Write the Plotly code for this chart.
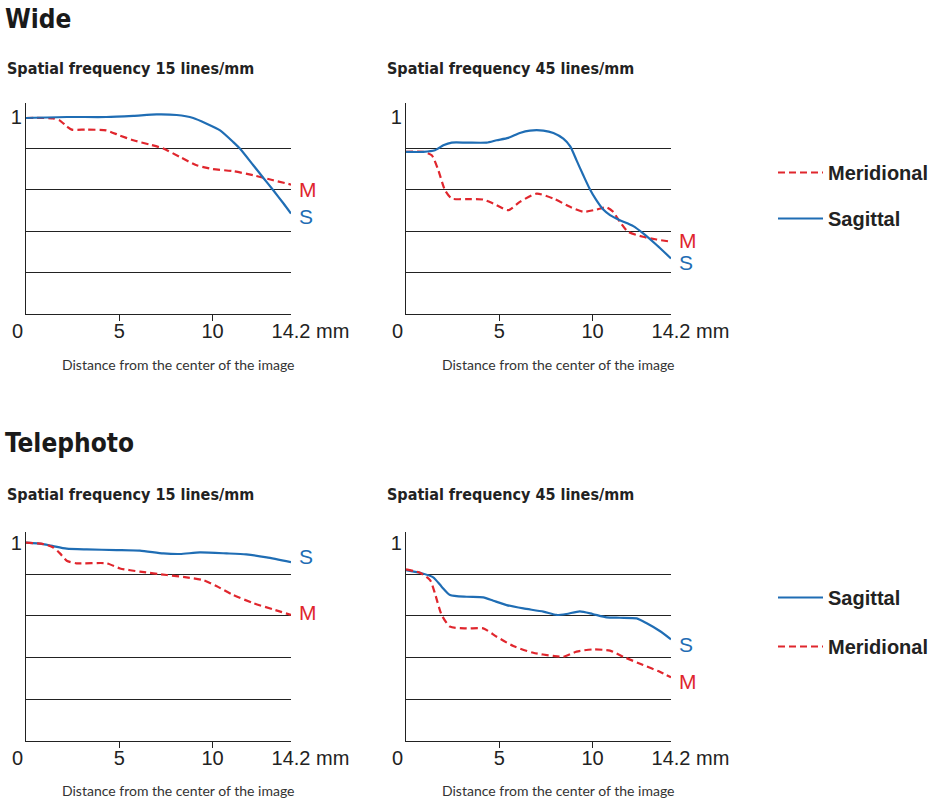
import plotly.graph_objects as go

# ---------------- data ----------------
X_TICKS = [0, 5, 10, 14.2]
X_TICK_TEXT = ["0\u00a0\u00a0\u00a0", "5", "10", "\u00a0\u00a0\u00a0\u00a0\u00a0\u00a0\u00a014.2 mm"]
X_MINOR_TICKS = [5, 10]
Y_TICKS = [1]
Y_TICK_TEXT = ["1"]
GRID_LEVELS = [0.21, 0.42, 0.63, 0.84]

GROUP_TITLES = ["Wide", "Telephoto"]
PANEL_TITLES = ["Spatial frequency 15 lines/mm", "Spatial frequency 45 lines/mm"]
X_LABEL = "Distance from the center of the image"
SERIES_NAMES = {"S": "Sagittal", "M": "Meridional"}

# Wide, 15 lines/mm
W15_S_X = [0, 2.2, 4.3, 5.75, 7.0, 8.07, 8.96, 9.68, 10.4, 11.1, 11.46, 12.18, 12.7, 13.25, 13.8, 14.2]
W15_S_Y = [0.995, 1.0, 1.0, 1.006, 1.013, 1.01, 0.995, 0.966, 0.932, 0.873, 0.84, 0.755, 0.693, 0.628, 0.561, 0.51]
W15_M_X = [0, 1.46, 1.8, 2.18, 2.45, 3.25, 4.3, 5.0, 5.75, 6.64, 7.36, 8.25, 9.14, 10.0, 11.1, 12.18, 13.25, 14.2]
W15_M_Y = [0.995, 0.993, 0.983, 0.953, 0.936, 0.936, 0.932, 0.907, 0.882, 0.86, 0.84, 0.797, 0.755, 0.736, 0.725, 0.704, 0.679, 0.657]

# Wide, 45 lines/mm
W45_S_X = [0, 0.93, 1.55, 2.0, 2.45, 3.25, 4.32, 4.86, 5.48, 6.1, 6.64, 7.36, 7.9, 8.43, 8.8, 9.14, 9.5, 9.86, 10.2, 10.57, 10.93, 11.46, 12.18, 12.71, 13.43, 14.2]
W45_S_Y = [0.823, 0.823, 0.831, 0.856, 0.87, 0.87, 0.87, 0.882, 0.894, 0.919, 0.931, 0.931, 0.919, 0.89, 0.851, 0.78, 0.704, 0.632, 0.578, 0.53, 0.502, 0.476, 0.446, 0.409, 0.35, 0.282]
W45_M_X = [0, 0.93, 1.38, 1.73, 2.09, 2.45, 3.25, 4.14, 4.68, 5.48, 6.1, 7.0, 7.9, 8.79, 9.5, 10.2, 10.75, 11.1, 11.46, 11.9, 12.7, 13.43, 14.2]
W45_M_Y = [0.823, 0.823, 0.806, 0.73, 0.628, 0.586, 0.583, 0.581, 0.561, 0.527, 0.569, 0.611, 0.586, 0.544, 0.519, 0.53, 0.541, 0.519, 0.468, 0.417, 0.392, 0.378, 0.367]

# Telephoto, 15 lines/mm
T15_S_X = [0, 0.93, 1.46, 2.18, 3.25, 4.86, 6.1, 7.36, 8.25, 9.32, 10.75, 11.8, 12.9, 14.2]
T15_S_Y = [1.0, 0.993, 0.983, 0.97, 0.966, 0.963, 0.96, 0.946, 0.943, 0.951, 0.946, 0.941, 0.926, 0.902]
T15_M_X = [0, 0.93, 1.46, 1.82, 2.18, 2.71, 4.32, 5.04, 6.1, 7.54, 8.6, 9.5, 10.2, 11.1, 12.2, 13.25, 14.2]
T15_M_Y = [1.0, 0.993, 0.976, 0.946, 0.909, 0.896, 0.896, 0.87, 0.854, 0.837, 0.825, 0.811, 0.781, 0.736, 0.694, 0.663, 0.635]

# Telephoto, 45 lines/mm
T45_S_X = [0, 0.75, 1.46, 1.91, 2.36, 3.25, 4.14, 4.68, 5.39, 6.29, 7.36, 8.07, 8.6, 9.32, 10.0, 10.75, 11.46, 12.36, 12.9, 13.6, 14.2]
T45_S_Y = [0.862, 0.848, 0.825, 0.778, 0.736, 0.727, 0.724, 0.707, 0.685, 0.668, 0.652, 0.635, 0.64, 0.653, 0.64, 0.623, 0.621, 0.618, 0.593, 0.554, 0.512]
T45_M_X = [0, 0.75, 1.29, 1.55, 1.91, 2.36, 3.25, 4.14, 4.86, 5.75, 6.82, 7.89, 8.43, 9.14, 10.0, 10.93, 11.64, 12.71, 13.6, 14.2]
T45_M_Y = [0.865, 0.848, 0.811, 0.744, 0.635, 0.576, 0.567, 0.567, 0.525, 0.478, 0.444, 0.428, 0.424, 0.45, 0.461, 0.455, 0.424, 0.382, 0.348, 0.32]

# ---------------- styles / layout ----------------
W, H = 936, 800
BLUE = "#1f6db4"
RED = "#e0262d"
INK = "#222222"
TITLE_FONT = "DejaVu Sans Condensed, Roboto Condensed, sans-serif"
TICK_FONT = "Liberation Sans, Arial, sans-serif"
LABEL_FONT = "Lato, Open Sans, sans-serif"

def px_x(p):
    return p / W

def px_y(p):
    return 1 - p / H

# panel pixel boxes: (left, right, bottom(y=0), top of axis, pixel of y=1)
PANELS = [
    dict(left=26, right=291, bottom=314.0, top=103.0, one=117.0, title_y=69, label_y=364,
         S=(W15_S_X, W15_S_Y), M=(W15_M_X, W15_M_Y), legend="legend", showlegend=True,
         lab_shift={"S": -3, "M": -5}),
    dict(left=406, right=671, bottom=314.0, top=103.0, one=117.0, title_y=69, label_y=364,
         S=(W45_S_X, W45_S_Y), M=(W45_M_X, W45_M_Y), legend="legend", showlegend=False,
         lab_shift={"S": -4, "M": 1}),
    dict(left=26, right=291, bottom=740.7, top=531.7, one=542.7, title_y=494, label_y=790,
         S=(T15_S_X, T15_S_Y), M=(T15_M_X, T15_M_Y), legend="legend2", showlegend=True,
         lab_shift={"S": 6, "M": 2}),
    dict(left=406, right=671, bottom=740.7, top=531.7, one=542.7, title_y=494, label_y=790,
         S=(T45_S_X, T45_S_Y), M=(T45_M_X, T45_M_Y), legend="legend2", showlegend=False,
         lab_shift={"S": -5, "M": -4}),
]

fig = go.Figure()
annotations = []
layout = dict(
    width=W, height=H,
    margin=dict(l=0, r=0, t=0, b=0, autoexpand=False),
    paper_bgcolor="white", plot_bgcolor="white",
    showlegend=True,
)

for i, p in enumerate(PANELS):
    n = "" if i == 0 else str(i + 1)
    xa, ya = "x" + n, "y" + n
    ytop = (p["bottom"] - p["top"]) / (p["bottom"] - p["one"])
    layout["xaxis" + n] = dict(
        domain=[px_x(p["left"]), px_x(p["right"])], anchor=ya, automargin=False,
        range=[0, 14.2], showline=True, linecolor=INK, linewidth=1.3,
        tickmode="array", tickvals=X_TICKS, ticktext=X_TICK_TEXT, ticks="",
        ticklabelstandoff=-1,
        tickfont=dict(family=TICK_FONT, size=20, color=INK),
        showgrid=False, zeroline=False, fixedrange=True,
        minor=dict(tickmode="array", tickvals=X_MINOR_TICKS, ticks="outside", ticklen=6,
                   tickcolor=INK, tickwidth=1.3, showgrid=False),
    )
    layout["yaxis" + n] = dict(
        domain=[px_y(p["bottom"]), px_y(p["top"])], anchor=xa, automargin=False,
        range=[0, ytop], showline=True, linecolor=INK, linewidth=1.3,
        tickmode="array", tickvals=Y_TICKS, ticktext=Y_TICK_TEXT, ticks="",
        ticklabelstandoff=-1,
        tickfont=dict(family=TICK_FONT, size=20, color=INK),
        showgrid=False, zeroline=False, fixedrange=True,
        minor=dict(tickmode="array", tickvals=GRID_LEVELS, ticks="", showgrid=True,
                   gridcolor=INK, gridwidth=1.3),
    )
    for key in ["M", "S"] if p["legend"] == "legend" else ["S", "M"]:
        xs, ys = p[key]
        color = RED if key == "M" else BLUE
        fig.add_trace(go.Scatter(
            x=xs, y=ys, mode="lines", name=SERIES_NAMES[key],
            line=dict(color=color, width=2.2, shape="spline", smoothing=0.6,
                      dash="7px,4px" if key == "M" else "solid"),
            xaxis=xa, yaxis=ya, legend=p["legend"], legendgroup=p["legend"] + key,
            showlegend=p["showlegend"], hoverinfo="skip",
        ))
        annotations.append(dict(
            x=xs[-1], y=ys[-1], xref=xa, yref=ya, text=key, showarrow=False,
            xanchor="left", yanchor="middle", xshift=6, yshift=p["lab_shift"][key],
            font=dict(family=TICK_FONT, size=21, color=color),
        ))
    # panel title
    annotations.append(dict(
        x=px_x(p["left"] - 21), y=px_y(p["title_y"]), xref="paper", yref="paper",
        text=PANEL_TITLES[i % 2], showarrow=False, xanchor="left", yanchor="middle",
        font=dict(family=TITLE_FONT, size=16, color=INK, weight="bold"),
    ))
    # x label
    annotations.append(dict(
        x=px_x(p["left"] + 152), y=px_y(p["label_y"]), xref="paper", yref="paper",
        text=X_LABEL, showarrow=False, xanchor="center", yanchor="middle",
        font=dict(family=LABEL_FONT, size=14, color="#333333"),
    ))

# group titles
for g, ytitle in zip(GROUP_TITLES, [19, 443]):
    annotations.append(dict(
        x=px_x(3), y=px_y(ytitle), xref="paper", yref="paper", text=g, showarrow=False,
        xanchor="left", yanchor="middle",
        font=dict(family=TITLE_FONT, size=26, color="#1a1a1a", weight="bold"),
    ))

legend_style = dict(
    xanchor="left", yanchor="top", bgcolor="rgba(0,0,0,0)", borderwidth=0,
    font=dict(family=TICK_FONT, size=20, color=INK, weight="bold"),
    traceorder="grouped", itemwidth=45,
)
layout["legend"] = dict(x=px_x(773), y=px_y(153), tracegroupgap=17, **legend_style)
layout["legend2"] = dict(x=px_x(773), y=px_y(578), tracegroupgap=20, **legend_style)
layout["annotations"] = annotations

fig.update_layout(**layout)
fig.write_html("out.html", config={"displayModeBar": False},
               post_script="document.body.style.margin='0';")
